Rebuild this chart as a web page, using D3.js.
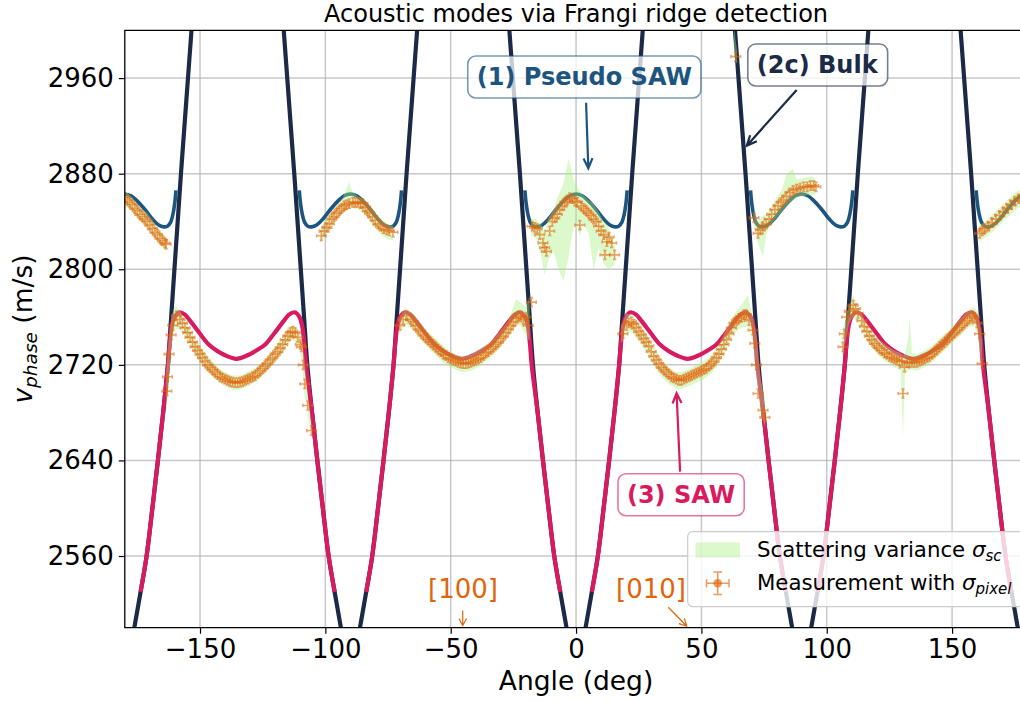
<!DOCTYPE html>
<html><head><meta charset="utf-8">
<script src="https://d3js.org/d3.v7.min.js"></script>
<style>
html,body{margin:0;padding:0;background:#fff;}
svg{display:block;font-family:"DejaVu Sans",sans-serif;}
</style></head><body>
<svg id="chart" width="1020" height="702"></svg>
<script>
// ---------------- DATA ----------------
const xDomain = [-180, 180];
const yDomain = [2500, 3000];
const xTicks = [-150, -100, -50, 0, 50, 100, 150];
const yTicks = [2560, 2640, 2720, 2800, 2880, 2960];
const titleText = "Acoustic modes via Frangi ridge detection";

// (2c) Bulk branch arms [angle, v]
const bulkArms = [
  [[-177.2,2488],[-176.2,2500],[-173.7,2530],[-171.3,2560],[-169,2600],[-166.8,2640],[-164.7,2680],[-162.8,2720],[-161.5,2760],[-160.2,2800],[-158.9,2840],[-157.6,2880],[-156.2,2920],[-154.8,2960],[-153.4,3000],[-152.7,3020]],
  [[-117.3,3020],[-116.6,3000],[-115.2,2960],[-113.8,2920],[-112.4,2880],[-111.1,2840],[-109.8,2800],[-108.5,2760],[-107.2,2720],[-105.3,2680],[-103.2,2640],[-101,2600],[-98.7,2560],[-96.3,2530],[-93.8,2500],[-92.8,2488]],
  [[-87.2,2488],[-86.2,2500],[-83.7,2530],[-81.3,2560],[-79,2600],[-76.8,2640],[-74.7,2680],[-72.8,2720],[-71.5,2760],[-70.2,2800],[-68.9,2840],[-67.6,2880],[-66.2,2920],[-64.8,2960],[-63.4,3000],[-62.7,3020]],
  [[-27.3,3020],[-26.6,3000],[-25.2,2960],[-23.8,2920],[-22.4,2880],[-21.1,2840],[-19.8,2800],[-18.5,2760],[-17.2,2720],[-15.3,2680],[-13.2,2640],[-11,2600],[-8.7,2560],[-6.3,2530],[-3.8,2500],[-2.8,2488]],
  [[2.8,2488],[3.8,2500],[6.3,2530],[8.7,2560],[11,2600],[13.2,2640],[15.3,2680],[17.2,2720],[18.5,2760],[19.8,2800],[21.1,2840],[22.4,2880],[23.8,2920],[25.2,2960],[26.6,3000],[27.3,3020]],
  [[62.7,3020],[63.4,3000],[64.8,2960],[66.2,2920],[67.6,2880],[68.9,2840],[70.2,2800],[71.5,2760],[72.8,2720],[74.7,2680],[76.8,2640],[79,2600],[81.3,2560],[83.7,2530],[86.2,2500],[87.2,2488]],
  [[92.8,2488],[93.8,2500],[96.3,2530],[98.7,2560],[101,2600],[103.2,2640],[105.3,2680],[107.2,2720],[108.5,2760],[109.8,2800],[111.1,2840],[112.4,2880],[113.8,2920],[115.2,2960],[116.6,3000],[117.3,3020]],
  [[152.7,3020],[153.4,3000],[154.8,2960],[156.2,2920],[157.6,2880],[158.9,2840],[160.2,2800],[161.5,2760],[162.8,2720],[164.7,2680],[166.8,2640],[169,2600],[171.3,2560],[173.7,2530],[176.2,2500],[177.2,2488]]
];

// (1) Pseudo SAW branch segments
const pseudoSaw = [
  [[-180,2863],[-177.5,2861.5],[-175,2857],[-172,2850],[-169,2842],[-166.5,2837],[-164.5,2835.5],[-163,2836],[-161.8,2839],[-160.8,2846],[-160.1,2855],[-159.6,2866]],
  [[-110.4,2866],[-109.9,2855],[-109.2,2846],[-108.2,2839],[-107,2836],[-105.5,2835.5],[-103.5,2837],[-101,2842],[-98,2850],[-95,2857],[-92.5,2861.5],[-90,2863],[-87.5,2861.5],[-85,2857],[-82,2850],[-79,2842],[-76.5,2837],[-74.5,2835.5],[-73,2836],[-71.8,2839],[-70.8,2846],[-70.1,2855],[-69.6,2866]],
  [[-20.4,2866],[-19.9,2855],[-19.2,2846],[-18.2,2839],[-17,2836],[-15.5,2835.5],[-13.5,2837],[-11,2842],[-8,2850],[-5,2857],[-2.5,2861.5],[0,2863],[2.5,2861.5],[5,2857],[8,2850],[11,2842],[13.5,2837],[15.5,2835.5],[17,2836],[18.2,2839],[19.2,2846],[19.9,2855],[20.4,2866]],
  [[69.6,2866],[70.1,2855],[70.8,2846],[71.8,2839],[73,2836],[74.5,2835.5],[76.5,2837],[79,2842],[82,2850],[85,2857],[87.5,2861.5],[90,2863],[92.5,2861.5],[95,2857],[98,2850],[101,2842],[103.5,2837],[105.5,2835.5],[107,2836],[108.2,2839],[109.2,2846],[109.9,2855],[110.4,2866]],
  [[159.6,2866],[160.1,2855],[160.8,2846],[161.8,2839],[163,2836],[164.5,2835.5],[166.5,2837],[169,2842],[172,2850],[175,2857],[177.5,2861.5],[180,2863]]
];

// (3) SAW branch segments
const sawBranch = [
  [[-173.7,2530],[-171.3,2560],[-169,2600],[-166.8,2640],[-164.7,2680],[-162.8,2720],[-162.1,2738],[-161.3,2752],[-160.2,2760],[-158.2,2764],[-156,2762],[-154,2757],[-150,2746],[-146.5,2737],[-143.4,2732],[-140,2728],[-135.5,2725],[-131,2728],[-127.5,2732],[-124,2737],[-120.5,2746],[-116.5,2757],[-114.5,2762],[-112.3,2764],[-110.3,2760],[-109.2,2752],[-108.4,2738],[-107.7,2720],[-105.3,2680],[-103.2,2640],[-101,2600],[-98.7,2560],[-96.3,2530]],
  [[-83.7,2530],[-81.3,2560],[-79,2600],[-76.8,2640],[-74.7,2680],[-72.8,2720],[-72.1,2738],[-71.3,2752],[-70.2,2760],[-68.2,2764],[-66,2762],[-64,2757],[-60,2746],[-56.5,2737],[-53.4,2732],[-50,2728],[-45.5,2725],[-41,2728],[-37.5,2732],[-34,2737],[-30.5,2746],[-26.5,2757],[-24.5,2762],[-22.3,2764],[-20.3,2760],[-19.2,2752],[-18.4,2738],[-17.7,2720],[-15.3,2680],[-13.2,2640],[-11,2600],[-8.7,2560],[-6.3,2530]],
  [[6.3,2530],[8.7,2560],[11,2600],[13.2,2640],[15.3,2680],[17.2,2720],[17.9,2738],[18.7,2752],[19.8,2760],[21.8,2764],[24,2762],[26,2757],[30,2746],[33.5,2737],[36.6,2732],[40,2728],[44.5,2725],[49,2728],[52.5,2732],[56,2737],[59.5,2746],[63.5,2757],[65.5,2762],[67.7,2764],[69.7,2760],[70.8,2752],[71.6,2738],[72.3,2720],[74.7,2680],[76.8,2640],[79,2600],[81.3,2560],[83.7,2530]],
  [[96.3,2530],[98.7,2560],[101,2600],[103.2,2640],[105.3,2680],[107.2,2720],[107.9,2738],[108.7,2752],[109.8,2760],[111.8,2764],[114,2762],[116,2757],[120,2746],[123.5,2737],[126.6,2732],[130,2728],[134.5,2725],[139,2728],[142.5,2732],[146,2737],[149.5,2746],[153.5,2757],[155.5,2762],[157.7,2764],[159.7,2760],[160.8,2752],[161.6,2738],[162.3,2720],[164.7,2680],[166.8,2640],[169,2600],[171.3,2560],[173.7,2530]]
];

// Scattering variance bands [angle, low, high]
const bandU1 = [[-180,2853,2866],[-177,2848,2860],[-174,2840,2852],[-171,2834,2847],[-168,2826,2838],[-165,2818,2830],[-163.5,2815,2826]];
const bandU2 = [[-102,2822,2834],[-99,2831,2845],[-96,2840,2852],[-93,2847,2860],[-90.5,2850,2873],[-89.5,2851,2866],[-87,2850,2861],[-84,2845,2858],[-81,2836,2850],[-78,2829,2843],[-75,2825,2838],[-73,2824,2836]];
const bandU3 = [[-18,2828,2842],[-16,2826,2842],[-14,2812,2838],[-12.5,2795,2830],[-11,2808,2843],[-9,2815,2850],[-7,2800,2862],[-5,2790,2872],[-3,2810,2893],[-1.5,2830,2880],[0,2840,2870],[1.5,2828,2866],[3,2838,2862],[5,2830,2858],[7,2800,2855],[9,2818,2848],[11,2805,2840],[13,2800,2835],[15.5,2804,2820]];
const bandU4 = [[71,2835,2852],[72.5,2822,2840],[74.5,2811,2845],[76,2830,2846],[78,2838,2853],[80,2843,2860],[82,2848,2866],[84,2853,2880],[86.5,2858,2884],[88,2860,2875],[90,2861,2876],[92,2862,2877],[94,2862,2878],[95.5,2862,2876]];
const bandU5 = [[160.5,2823,2836],[163,2826,2840],[166,2831,2846],[169,2837,2852],[172,2843,2858],[175,2849,2864],[178,2854,2868],[180,2856,2870]];
const bandTop = [[63,2978,3005],[63.6,2974,2992],[64.2,2972,2984]];
const bandL1 = [[-163.5,2680,2715],[-162.5,2700,2740],[-161.5,2735,2760],[-160,2750,2770],[-158,2750,2765],[-155,2740,2754],[-152,2729,2742],[-149,2719,2733],[-146,2712,2725],[-143,2706,2718],[-140,2702,2714],[-137,2699,2711],[-135,2699,2711],[-133,2700,2712],[-130,2703,2715],[-127,2707,2719],[-124,2713,2725],[-121,2720,2733],[-118,2727,2741],[-115,2737,2751],[-113,2741,2754],[-111,2736,2750],[-109.5,2725,2742],[-108.5,2698,2728],[-107,2678,2695],[-105.5,2658,2672]];
const bandL2 = [[-70.5,2745,2760],[-68,2754,2768],[-65,2749,2763],[-62,2741,2755],[-59,2734,2748],[-56,2728,2742],[-53,2722,2736],[-50,2718,2731],[-47,2715,2728],[-45,2714,2727],[-42,2715,2729],[-39,2718,2732],[-36,2723,2737],[-33,2728,2742],[-30,2735,2749],[-27,2743,2757],[-24,2752,2775],[-22,2753,2772],[-20,2745,2768],[-18.5,2740,2778]];
const bandL3 = [[18,2738,2752],[20,2745,2763],[22,2748,2762],[25,2740,2755],[28,2731,2746],[31,2719,2735],[34,2710,2725],[37,2704,2718],[40,2700,2714],[42,2700,2714],[45,2702,2716],[48,2705,2720],[51,2708,2723],[54,2713,2728],[57,2721,2737],[60,2733,2750],[63,2746,2762],[66,2751,2770],[68.5,2752,2778],[70.5,2740,2760],[72,2710,2745],[73.5,2680,2710],[75.5,2668,2690]];
const bandL4 = [[106,2725,2745],[107.5,2740,2760],[109,2755,2770],[110.5,2760,2778],[112.5,2755,2770],[115,2744,2758],[118,2734,2748],[121,2727,2741],[124,2722,2736],[127,2718,2732],[129.5,2715,2730],[130.4,2659,2728],[131.2,2712,2730],[132.5,2715,2742],[133,2716,2760],[134,2716,2730],[136,2715,2729],[139,2718,2732],[142,2722,2736],[145,2728,2742],[148,2734,2748],[151,2740,2754],[154,2746,2760],[157,2752,2767],[159,2752,2768],[160.5,2742,2762],[162,2712,2740]];

// Measurements (upper, pseudo-SAW ridge)
const measUpper = [
  [-180,2860],[-179,2858],[-178,2856],[-177,2854],[-176,2851],[-175,2849],[-174,2846],[-173,2844],[-172,2842],[-171,2840],[-170,2837],[-169,2834],[-168,2831],[-167,2829],[-166,2826],[-165,2824],[-164,2822],[-163.5,2821],
  [-101.6,2828],[-100.5,2832],[-99.4,2835],[-98.4,2838],[-97.4,2842],[-96.5,2844],[-95.6,2847],[-94.5,2849],[-93.5,2851],[-92.5,2853],[-91.6,2854],[-90.5,2855],[-89,2856],[-88,2856],[-87,2856],[-86,2855],[-85,2855],[-84,2852],[-83.2,2849],[-82.3,2847],[-81.2,2844],[-80.1,2841],[-79,2838],[-78,2836],[-76.8,2834],[-75.6,2833],[-74.5,2832],[-73,2831],
  [-17.5,2836],[-16.5,2835],[-15.5,2834],[-14.5,2829],[-13.2,2822],[-12.5,2818],[-11.8,2815],[-10.5,2832],[-9.5,2840],[-8.5,2843],[-7.5,2846],[-6.5,2850],[-5.5,2853],[-4.5,2856],[-3.5,2858],[-2.5,2860],[-1.5,2859],[-0.5,2857],[0.5,2856],[1.5,2837],[2,2853],[3,2851],[4,2849],[5,2847],[6,2845],[7,2842],[8,2840],[9,2836],[10,2832],[11,2829],[11.5,2812],[12.3,2823],[13.2,2827],[14.2,2822],[15.4,2812],
  [71,2843],[72.6,2830],[73.5,2833],[74.5,2836],[75.9,2838],[77,2842],[78,2846],[79.3,2850],[80.6,2853],[81.8,2856],[82.8,2858],[84,2861],[85.3,2864],[86.6,2866],[88,2867],[89.4,2868],[90.8,2869],[92.2,2869],[93.5,2870],[94.8,2870],[95.7,2869],
  [161,2830],[162,2832],[163,2834],[164.5,2836],[166,2839],[167.5,2842],[169,2845],[170.5,2848],[172,2851],[173.5,2854],[175,2857],[176.5,2859],[178,2861],[179.5,2862],
  [63.7,2978]
];
// Measurements (lower, SAW ridge)
const measLower = [
  [-163.2,2698],[-163,2710],[-162.3,2729],[-161.5,2745],[-160.8,2753],[-159.4,2761],[-158,2758],[-157,2755],[-156,2751],[-155,2747],[-154,2743],[-153,2739],[-152,2735],[-151,2732],[-150,2729],[-149,2726],[-148,2723],[-147,2720],[-146,2718],[-145,2716],[-144,2714],[-143,2712],[-142,2710],[-141,2709],[-140,2708],[-139,2707],[-138,2706],[-137,2705.5],[-136,2705],[-135,2705],[-134,2705.5],[-133,2706],[-132,2707],[-131,2708],[-130,2709],[-129,2710],[-128,2711],[-127,2713],[-126,2715],[-125,2717],[-124,2719],[-123,2721],[-122,2724],[-121,2726],[-120,2729],[-119,2731],[-118,2734],[-117,2737],[-116,2741],[-115,2744],[-114,2747],[-113,2748],[-112,2747],[-111,2743],[-110,2737],[-109.5,2735],[-108.8,2720],[-108.2,2704],[-107,2686],[-105.5,2665],
  [-70.3,2753],[-69,2758],[-67.6,2761],[-66,2758],[-65,2756],[-64,2753],[-63,2750],[-62,2748],[-61,2745],[-60,2743],[-59,2741],[-58,2739],[-57,2737],[-56,2735],[-55,2733],[-54,2731],[-53,2729],[-52,2728],[-51,2726],[-50,2725],[-49,2724],[-48,2723],[-47,2722],[-46,2721.5],[-45,2721],[-44,2721],[-43,2721.5],[-42,2722],[-41,2723],[-40,2724],[-39,2725],[-38,2726],[-37,2728],[-36,2730],[-35,2731],[-34,2733],[-33,2735],[-32,2737],[-31,2739],[-30,2742],[-29,2744],[-28,2747],[-27,2750],[-26,2753],[-25,2756],[-24,2759],[-23,2761],[-22,2760],[-21,2758],[-19.8,2760],[-19.1,2753],[-17.8,2772.5],
  [18.7,2746],[20.1,2753],[21,2755],[22.1,2756],[23,2754],[24,2751],[25,2748],[26,2745],[27,2742],[28,2739],[29,2736],[30,2731],[31,2727],[32,2724],[33,2721],[34,2718],[35,2716],[36,2714],[37,2712],[38,2710],[39,2709],[40,2708],[41,2707],[42,2707],[43,2708],[44,2709],[45,2710],[46,2711],[47,2712],[48,2713],[49,2714],[50,2715],[51,2716],[52,2717],[53,2719],[54,2721],[55,2723],[56,2726],[57,2729],[58,2733],[59,2737],[60,2741],[61,2746],[62,2751],[63,2755],[64,2757],[65,2759],[66,2760],[67,2762],[68,2762],[69,2757],[70.6,2749],[71.3,2738],[72,2720],[72.6,2696],[74.6,2682],[75.3,2676],
  [106.5,2735],[107,2746],[108,2760],[109,2765],[110.5,2770],[111.5,2767],[112.5,2763],[114,2757],[115,2752],[116,2748],[117,2744],[118,2741],[119,2738],[120,2736],[121,2734],[122,2732],[123,2730],[124,2729],[125,2727],[126,2726],[127,2725],[128,2724],[129,2723],[130,2723],[130.4,2696],[131,2718],[132,2722],[133,2722],[134,2722],[135,2722],[136,2722],[137,2723],[138,2724],[139,2725],[140,2726],[141,2727],[142,2729],[143,2731],[144,2733],[145,2735],[146,2737],[147,2739],[148,2741],[149,2743],[150,2745],[151,2747],[152,2749],[153,2751],[154,2753],[155,2755],[156,2757],[157,2759],[158,2761],[159,2760],[160,2755],[161,2746],[162,2721]
];
const measErrX = 1.9;   // deg
const measErrY = 3.8;   // m/s

const legendLabels = ["Scattering variance ", "Measurement with "];

const annotations = [
  {text:"(1) Pseudo SAW", color:"#1d5581", tx:3.3, ty:2954.2, ax:4.0, ay:2939.4, hx:4.9, hy:2884.5},
  {text:"(2c) Bulk", color:"#1b2a47", tx:96.2, ty:2964.3, ax:88.0, ay:2950.0, hx:68.1, hy:2903.4},
  {text:"(3) SAW", color:"#d81b60", tx:41.9, ty:2604.6, ax:41.5, ay:2630.6, hx:40.1, hy:2696.2}
];
const dirLabels = [
  {text:"[100]", tx:-45.1, ty:2524.6, ax:-45.2, ay:2514.5, hx:-45.2, hy:2501.8},
  {text:"[010]", tx:29.9, ty:2524.6, ax:36.8, ay:2517.1, hx:44.1, hy:2501.4}
];

// ---------------- STYLE ----------------
const C_BULK = "#1b2a47", C_PSAW = "#1d5581", C_SAW = "#d81b60";
const C_ORANGE = "#e2640a", C_GREEN = "#a6f07a";

// ---------------- DRAW ----------------
const svg = d3.select("#chart");
const L = 124.8, R = 1027.3, T = 30.3, B = 627.7;
const x = d3.scaleLinear().domain(xDomain).range([L, R]);
const y = d3.scaleLinear().domain(yDomain).range([B, T]);

svg.append("defs").append("clipPath").attr("id","clip")
  .append("rect").attr("x",L).attr("y",T).attr("width",R-L).attr("height",B-T);

// grid
const grid = svg.append("g");
grid.selectAll("line.gx").data(xTicks).join("line")
  .attr("x1",d=>x(d)).attr("x2",d=>x(d)).attr("y1",T).attr("y2",B)
  .attr("stroke","#b0b0b0").attr("stroke-opacity",0.7).attr("stroke-width",1.5);
grid.selectAll("line.gy").data(yTicks).join("line")
  .attr("y1",d=>y(d)).attr("y2",d=>y(d)).attr("x1",L).attr("x2",R)
  .attr("stroke","#b0b0b0").attr("stroke-opacity",0.7).attr("stroke-width",1.5);

const plot = svg.append("g").attr("clip-path","url(#clip)");
const line = d3.line().x(d=>x(d[0])).y(d=>y(d[1])).curve(d3.curveCatmullRom.alpha(0.5));

plot.selectAll("path.bulk").data(bulkArms).join("path")
  .attr("d",line).attr("fill","none").attr("stroke",C_BULK).attr("stroke-width",4.2);
plot.selectAll("path.psaw").data(pseudoSaw).join("path")
  .attr("d",line).attr("fill","none").attr("stroke",C_PSAW).attr("stroke-width",3.6);
plot.selectAll("path.saw").data(sawBranch).join("path")
  .attr("d",line).attr("fill","none").attr("stroke",C_SAW).attr("stroke-width",4.2);

const area = d3.area().x(d=>x(d[0])).y0(d=>y(d[1])).y1(d=>y(d[2]));
const bands = [bandU1,bandU2,bandU3,bandU4,bandU5,bandTop,bandL1,bandL2,bandL3,bandL4];
plot.selectAll("path.band").data(bands).join("path")
  .attr("d",area).attr("fill",C_GREEN).attr("fill-opacity",0.4);

function errPath(d){
  const cx = x(d[0]), cy = y(d[1]);
  const ex = x(d[0]+measErrX)-cx, ey = cy - y(d[1]+measErrY), c = 1.6;
  return `M${cx-ex},${cy}H${cx+ex}M${cx},${cy-ey}V${cy+ey}`+
         `M${cx-ex},${cy-c}V${cy+c}M${cx+ex},${cy-c}V${cy+c}`+
         `M${cx-c},${cy-ey}H${cx+c}M${cx-c},${cy+ey}H${cx+c}`;
}
plot.selectAll("path.meas").data(measUpper.concat(measLower)).join("path")
  .attr("d",errPath).attr("fill","none").attr("stroke",C_ORANGE)
  .attr("stroke-opacity",0.6).attr("stroke-width",1.6);

// axes
const fmt = d => String(d).replace("-", "\u2212");
const gx = svg.append("g").attr("transform",`translate(0,${B})`)
  .call(d3.axisBottom(x).tickValues(xTicks).tickSize(6).tickPadding(6).tickFormat(fmt));
const gy = svg.append("g").attr("transform",`translate(${L},0)`)
  .call(d3.axisLeft(y).tickValues(yTicks).tickSize(6).tickPadding(5).tickFormat(fmt));
[gx,gy].forEach(g=>{
  g.select(".domain").remove();
  g.selectAll(".tick line").attr("stroke","#000").attr("stroke-width",1.2);
  g.selectAll(".tick text").attr("font-family","DejaVu Sans").attr("font-size",26).attr("fill","#000");
});
// spines (top, left, bottom)
svg.append("path").attr("d",`M${R},${T}H${L}V${B}H${R}`).attr("fill","none")
  .attr("stroke","#000").attr("stroke-width",1.3);

// title & labels
svg.append("text").attr("x",(L+R)/2).attr("y",22).attr("text-anchor","middle")
  .attr("font-size",24).text(titleText);
svg.append("text").attr("x",(L+R)/2).attr("y",690).attr("text-anchor","middle")
  .attr("font-size",26.5).text("Angle (deg)");
const yl = svg.append("text").attr("transform",`translate(32,${(T+B)/2}) rotate(-90)`)
  .attr("text-anchor","middle").attr("font-size",26.5);
yl.append("tspan").attr("font-style","italic").text("v");
yl.append("tspan").attr("font-style","italic").attr("font-size",18.5).attr("dy",5).text("phase");
yl.append("tspan").attr("dy",-5).text(" (m/s)");

// legend
const lg = svg.append("g");
lg.append("rect").attr("x",687.7).attr("y",531.7).attr("width",400).attr("height",75)
  .attr("rx",5).attr("fill","#fff").attr("fill-opacity",0.8).attr("stroke","#cccccc").attr("stroke-width",1.2);
lg.append("rect").attr("x",695.5).attr("y",542.5).attr("width",44.5).attr("height",15)
  .attr("fill",C_GREEN).attr("fill-opacity",0.4);
const eb = lg.append("g").attr("stroke",C_ORANGE).attr("stroke-opacity",0.65).attr("stroke-width",1.5).attr("fill","none");
eb.append("path").attr("d","M706.5,583.3H729M717.7,572V594.6M706.5,579V587.6M729,579V587.6M713.4,572H722M713.4,594.6H722");
lg.append("circle").attr("cx",717.7).attr("cy",583.3).attr("r",4.3).attr("fill",C_ORANGE).attr("fill-opacity",0.65);
const t1 = lg.append("text").attr("x",757).attr("y",556.7).attr("font-size",21.3);
t1.append("tspan").text(legendLabels[0]);
t1.append("tspan").attr("font-style","italic").text("\u03c3");
t1.append("tspan").attr("font-style","italic").attr("font-size",15).attr("dy",4).text("sc");
const t2 = lg.append("text").attr("x",757).attr("y",590).attr("font-size",21.3);
t2.append("tspan").text(legendLabels[1]);
t2.append("tspan").attr("font-style","italic").text("\u03c3");
t2.append("tspan").attr("font-style","italic").attr("font-size",15).attr("dy",4).text("pixel");

// arrows
function arrowPath(x1,y1,x2,y2,hl,ang){
  const a = Math.atan2(y1-y2, x1-x2);
  const p1 = [x2+hl*Math.cos(a+ang), y2+hl*Math.sin(a+ang)];
  const p2 = [x2+hl*Math.cos(a-ang), y2+hl*Math.sin(a-ang)];
  return `M${x1},${y1}L${x2},${y2}M${p1[0]},${p1[1]}L${x2},${y2}L${p2[0]},${p2[1]}`;
}
annotations.forEach(a=>{
  const g = svg.append("g");
  g.append("path").attr("d",arrowPath(x(a.ax),y(a.ay),x(a.hx),y(a.hy),11,0.42))
    .attr("fill","none").attr("stroke",a.color).attr("stroke-width",2.2);
  const bx = g.append("rect");
  const t = g.append("text").attr("x",x(a.tx)).attr("y",y(a.ty)).attr("text-anchor","middle")
    .attr("font-size",24).attr("font-weight","bold").attr("fill",a.color).text(a.text);
  const bb = t.node().getBBox();
  bx.attr("x",bb.x-9).attr("y",bb.y-7).attr("width",bb.width+18).attr("height",bb.height+14)
    .attr("rx",8).attr("fill","#fff").attr("fill-opacity",0.75)
    .attr("stroke",a.color).attr("stroke-opacity",0.6).attr("stroke-width",1.6);
});
dirLabels.forEach(a=>{
  svg.append("path").attr("d",arrowPath(x(a.ax),y(a.ay),x(a.hx),y(a.hy),8,0.5))
    .attr("fill","none").attr("stroke",C_ORANGE).attr("stroke-width",1.2);
  svg.append("text").attr("x",x(a.tx)).attr("y",y(a.ty)).attr("text-anchor","middle")
    .attr("font-size",26).attr("fill",C_ORANGE).text(a.text);
});
</script></body></html>
